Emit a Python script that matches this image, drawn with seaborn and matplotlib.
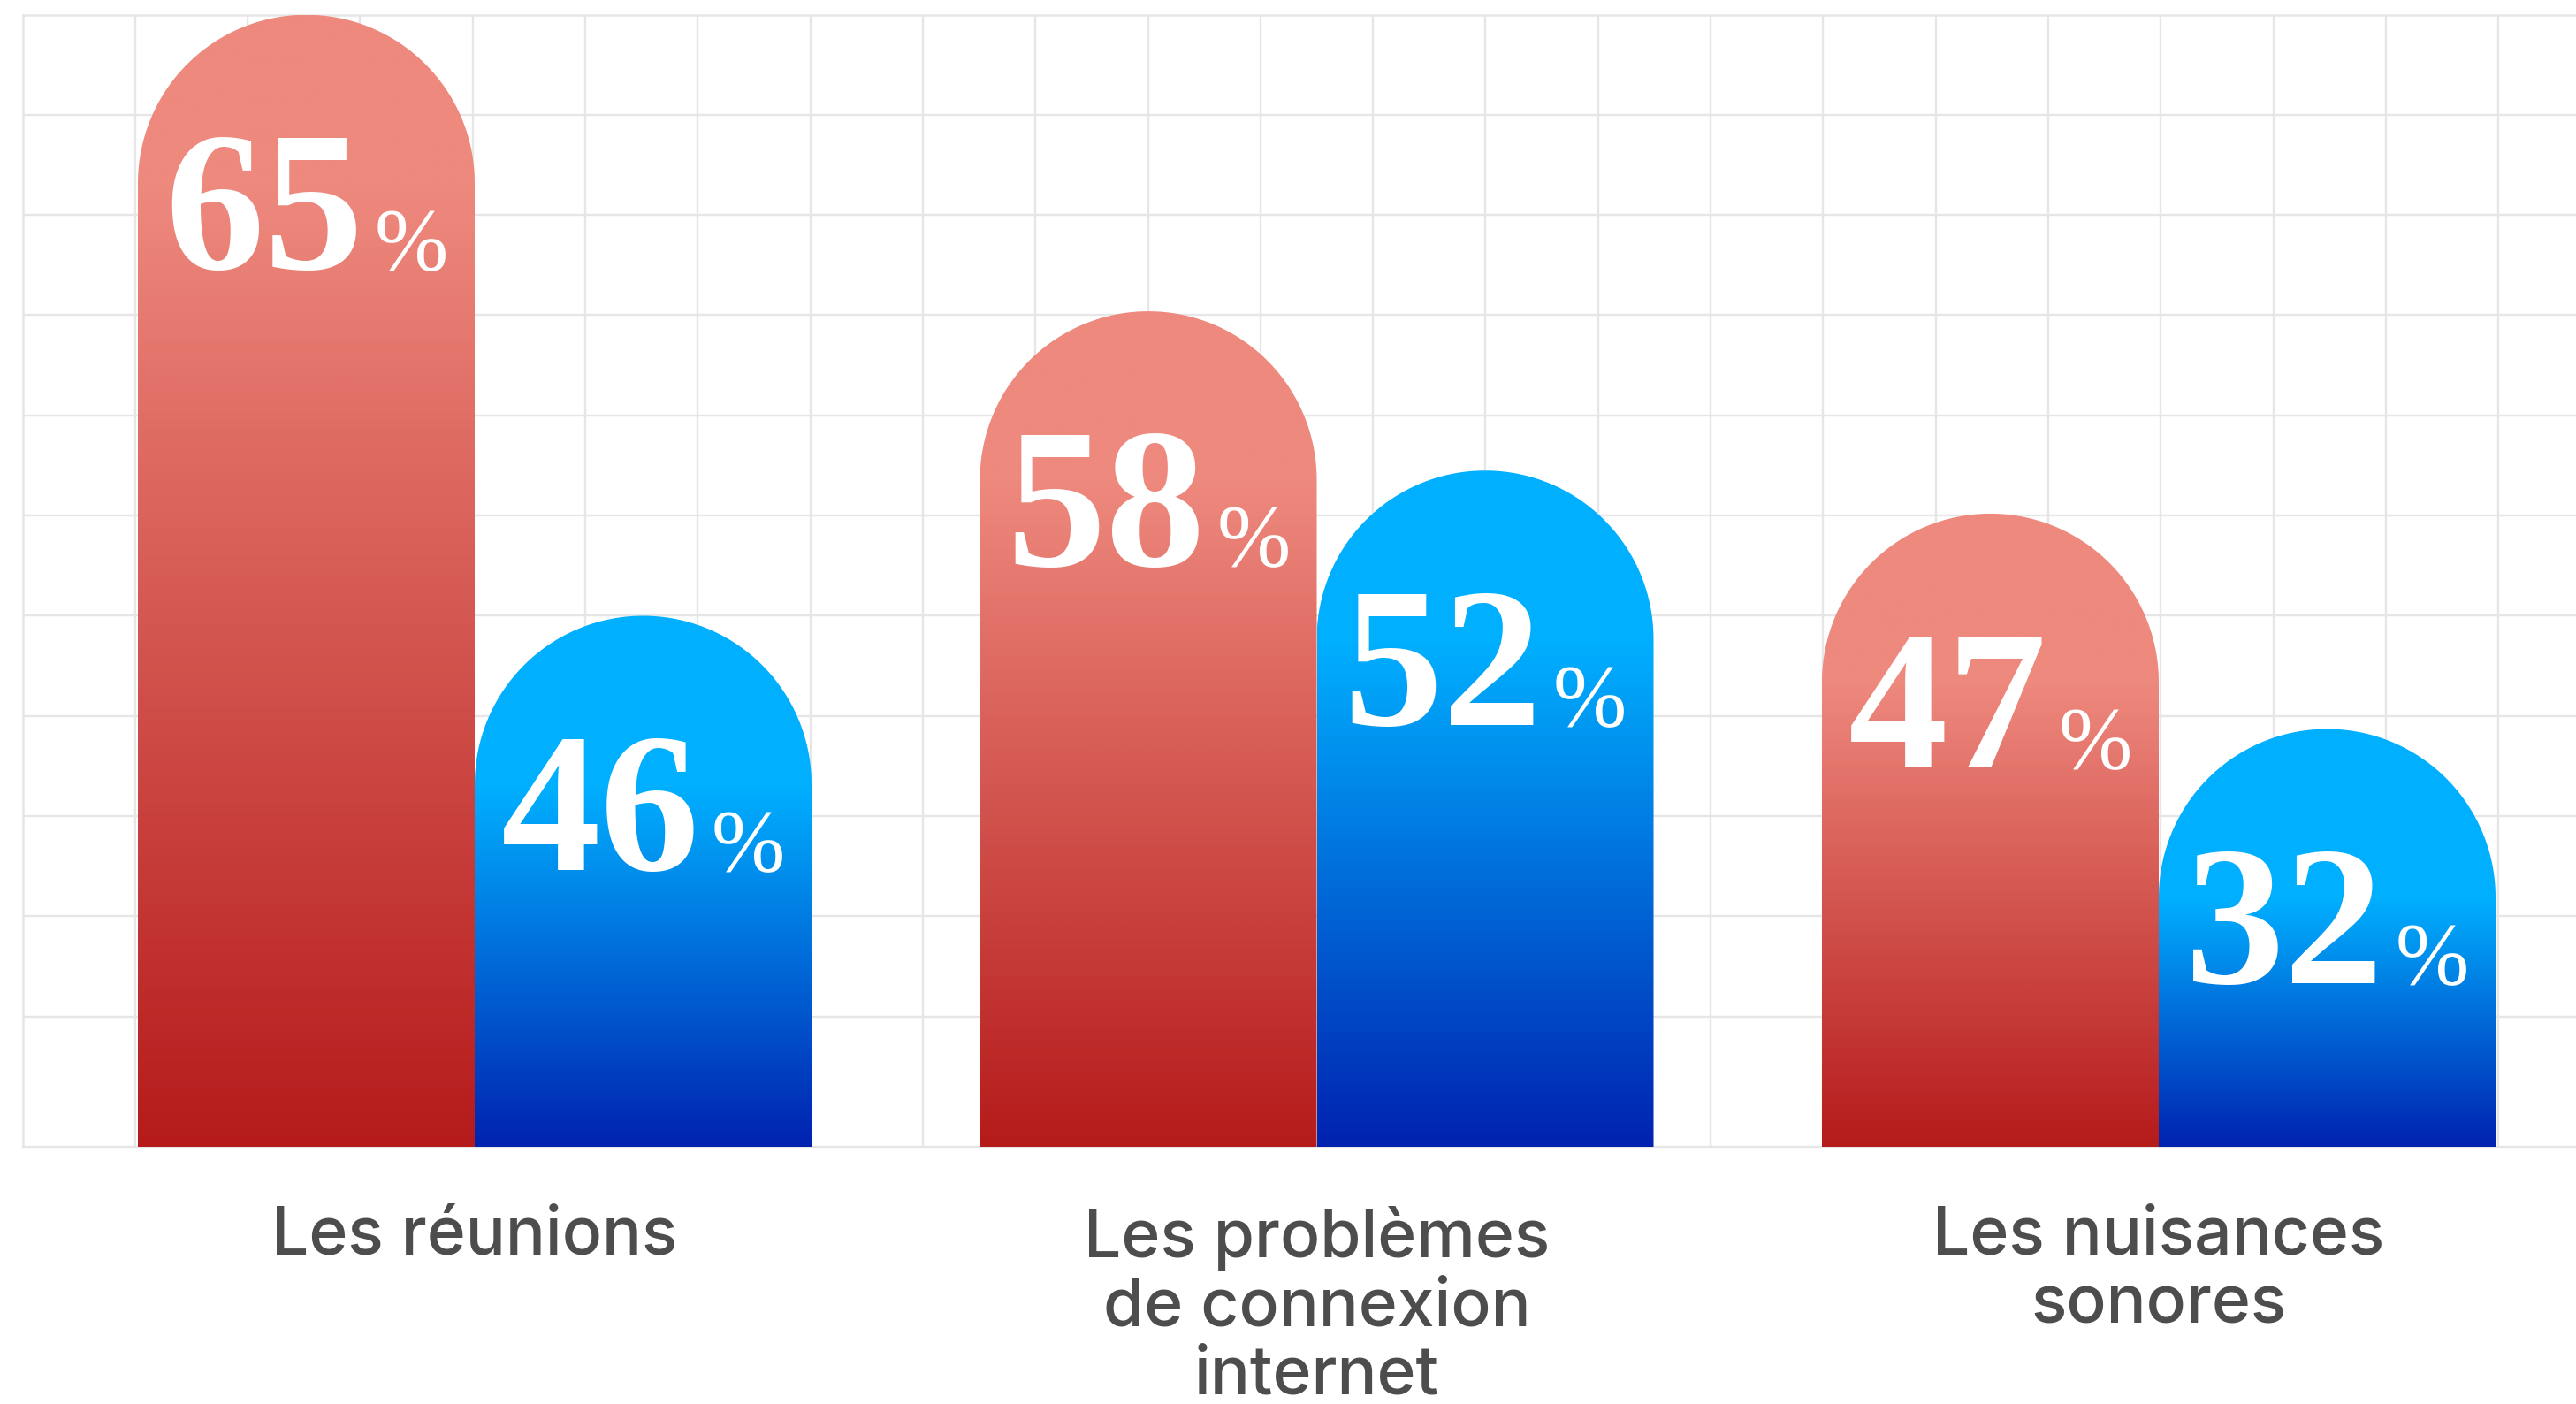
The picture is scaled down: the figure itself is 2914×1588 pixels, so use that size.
import numpy as np
import pandas as pd
import matplotlib
matplotlib.use("Agg")
import matplotlib.pyplot as plt
import seaborn as sns
from matplotlib.path import Path
from matplotlib.patches import PathPatch
from matplotlib.colors import LinearSegmentedColormap
from matplotlib.offsetbox import TextArea, HPacker, AnnotationBbox

# ---- data ----
categories = ["Les réunions", "Les problèmes\nde connexion\ninternet", "Les nuisances\nsonores"]
series = ["rouge", "bleu"]
values_red = [65, 58, 47]
values_blue = [46, 52, 32]
# bar heights as drawn (top of the rounded cap), in grid cells above the baseline
heights_red = [11.30, 8.34, 6.32]
heights_blue = [5.30, 6.75, 4.17]

# ---- layout (pixels of the 2914x1588 canvas) ----
W, H, DPI = 2914, 1588, 100
GRID_LEFT, GRID_TOP, BASE = 25.5, 16.5, 1297
CELL_W, CELL_H = 127.3, 113.3
GROUP0_PX, GROUP_STEP_PX = 537, 952.5

GRID_COLOR = "#E6E6E6"
TEXT_COLOR = "#4D4D4D"
GRADIENTS = {
    "rouge": ("#B51B1B", "#EE897E"),
    "bleu": ("#0022B0", "#00B0FF"),
}
SERIF = ["Liberation Serif", "DejaVu Serif"]
SANS = ["Inter", "DejaVu Sans"]

sns.set_style("white")
plt.rcParams["font.family"] = SANS

fig = plt.figure(figsize=(W / DPI, H / DPI), dpi=DPI)
rect = [GRID_LEFT / W, (H - BASE) / H, 1 - GRID_LEFT / W, (BASE - GRID_TOP) / H]
y_top = (BASE - GRID_TOP) / CELL_H

# background grid
bg = fig.add_axes(rect)
bg.set_xlim(0, (W - GRID_LEFT) / CELL_W)
bg.set_ylim(0, y_top)
bg.set_xticks(np.arange(1, 23))
bg.set_yticks(y_top - np.arange(1, 11))
bg.grid(True, color=GRID_COLOR, linewidth=1.7)
bg.tick_params(length=0, labelbottom=False, labelleft=False)
for side in ["left", "top", "bottom"]:
    bg.spines[side].set_color(GRID_COLOR)
    bg.spines[side].set_linewidth(1.8)
bg.spines["bottom"].set_linewidth(2.4)
bg.spines["right"].set_visible(False)

# bars
df = pd.DataFrame({
    "categorie": categories * 2,
    "serie": [series[0]] * 3 + [series[1]] * 3,
    "hauteur": heights_red + heights_blue,
    "valeur": values_red + values_blue,
})

ax = fig.add_axes(rect, facecolor="none")
sns.barplot(data=df, x="categorie", y="hauteur", hue="serie", order=categories,
            hue_order=series, palette=["#EE897E", "#00B0FF"], width=0.8,
            saturation=1, legend=False, ax=ax)
ax.set_xlim((GRID_LEFT - GROUP0_PX) / GROUP_STEP_PX, (W - GROUP0_PX) / GROUP_STEP_PX)
ax.set_ylim(0, y_top)
ax.set_autoscale_on(False)
for s in ax.spines.values():
    s.set_visible(False)
ax.set_xlabel("")
ax.set_ylabel("")
ax.set_yticks([])

# data units -> pixels, to make the caps round
p0 = ax.transData.transform((0, 0))
p1 = ax.transData.transform((1, 1))
sx, sy = p1[0] - p0[0], p1[1] - p0[1]

for container, name in zip(ax.containers, series):
    lo, hi = GRADIENTS[name]
    cmap = LinearSegmentedColormap.from_list(name, [lo, hi])
    vals = df.loc[df["serie"] == name, "valeur"].tolist()
    for bar, val in zip(container.patches, vals):
        x0, w, h = bar.get_x(), bar.get_width(), bar.get_height()
        bar.set_visible(False)
        rx = w / 2
        ry = rx * sx / sy
        cx = x0 + rx
        shoulder = h - ry
        t = np.linspace(np.pi, 0, 120)
        verts = [(x0, 0), (x0, shoulder)]
        verts += list(zip(cx + rx * np.cos(t), shoulder + ry * np.sin(t)))
        verts += [(x0 + w, 0), (x0, 0)]
        codes = [Path.MOVETO] + [Path.LINETO] * (len(verts) - 2) + [Path.CLOSEPOLY]
        clip = PathPatch(Path(verts, codes), transform=ax.transData,
                         facecolor="none", edgecolor="none")
        ax.add_patch(clip)
        yy = np.linspace(0, h, 600)
        z = np.clip(yy / shoulder, 0, 1)[:, None]
        im = ax.imshow(z, extent=(x0, x0 + w, 0, h), origin="lower", aspect="auto",
                       cmap=cmap, vmin=0, vmax=1, interpolation="bilinear", zorder=1)
        im.set_clip_path(clip)

        num = TextArea(f"{val}", textprops=dict(color="white", fontsize=162,
                                                 fontweight="bold", family=SERIF))
        pct = TextArea("%", textprops=dict(color="white", fontsize=72, family=SERIF))
        pack = HPacker(children=[num, pct], align="baseline", pad=0, sep=9)
        ab = AnnotationBbox(pack, (cx, shoulder - 0.38), xycoords="data",
                            box_alignment=(0.5, 0.5), frameon=False, pad=0, zorder=4)
        ax.add_artist(ab)

ax.set_xticks(range(len(categories)))
ax.set_xticklabels(categories, fontsize=54, color=TEXT_COLOR, fontweight="medium")
ax.tick_params(axis="x", length=0, pad=48)
for lab in ax.get_xticklabels():
    lab.set_linespacing(1.12)
    lab.set_family(SANS)

fig.savefig("out.png", dpi=DPI, facecolor="white")
